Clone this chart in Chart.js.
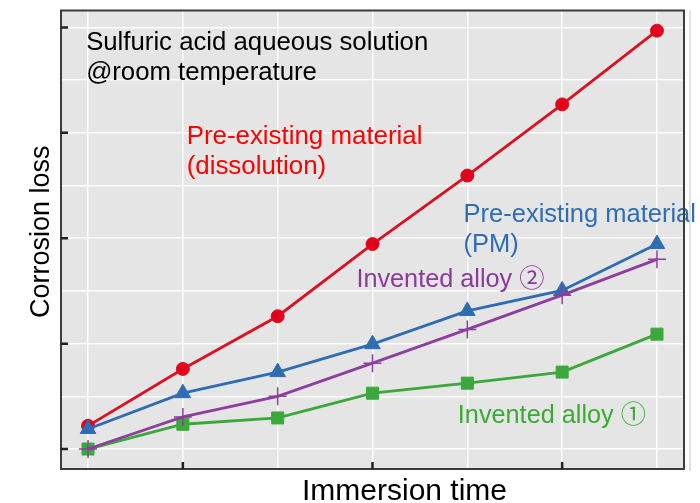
<!DOCTYPE html>
<html><head><meta charset="utf-8">
<script src="https://cdn.jsdelivr.net/npm/chart.js@4/dist/chart.umd.min.js"></script>
<style>html,body{margin:0;padding:0;background:#fff}#wrap{width:700px;height:503px}</style>
</head><body><div id="wrap"><canvas id="c" width="700" height="503"></canvas></div>
<script>
// ---- data ----
const times = [0, 1, 2, 3, 4, 5, 6];
const preExistingDissolution = [0.44, 1.52, 2.52, 3.89, 5.19, 6.54, 7.94];
const preExistingPM          = [0.38, 1.06, 1.46, 1.99, 2.62, 3.01, 3.89];
const inventedAlloy2         = [0.00, 0.61, 1.00, 1.63, 2.27, 2.92, 3.60];
const inventedAlloy1         = [0.00, 0.47, 0.59, 1.06, 1.25, 1.46, 2.18];
const yGridValues = [0, 1, 2, 3, 4, 5, 6, 7, 8];
const yTickMarks = [0, 2, 4, 6, 8];
const xTickMarks = [1, 3, 5];
const xTitle = 'Immersion time';
const yTitle = 'Corrosion loss';
const noteLines = [
  {text: 'Sulfuric acid aqueous solution', color: '#000000', x: -0.02, y: 7.58, size: 25, sx: 1.03},
  {text: '@room temperature',              color: '#000000', x: -0.02, y: 7.01, size: 25, sx: 1.03},
  {text: 'Pre-existing material',          color: '#ff0000', x: 1.04,  y: 5.78, size: 25, sx: 1.035},
  {text: '(dissolution)',                  color: '#ff0000', x: 1.04,  y: 5.22, size: 25, sx: 1.035},
  {text: 'Pre-existing material',          color: '#2e6db4', x: 3.96,  y: 4.30, size: 25, sx: 1.02},
  {text: '(PM)',                           color: '#2e6db4', x: 3.96,  y: 3.73, size: 25, sx: 1.02},
  {text: 'Invented alloy ②',               color: '#8b3a9b', x: 2.83,  y: 3.07, size: 25, sx: 1.01},
  {text: 'Invented alloy ①',               color: '#3aaa35', x: 3.90,  y: 0.49, size: 25, sx: 1.01}
];

const toPts = arr => arr.map((v, i) => ({x: times[i], y: v}));
const FONT = '"Liberation Sans", Arial, "Noto Sans CJK JP", "DejaVu Sans", sans-serif';

const decor = {
  id: 'decor',
  beforeDraw(chart) {
    const {ctx, chartArea: a} = chart;
    ctx.save();
    ctx.fillStyle = '#e5e5e5';
    ctx.fillRect(a.left, a.top, a.right - a.left, a.bottom - a.top);
    ctx.restore();
  },
  afterDatasetsDraw(chart) {
    const {ctx} = chart;
    const xs = chart.scales.x, ys = chart.scales.y;
    ctx.save();
    ctx.textBaseline = 'alphabetic';
    ctx.textAlign = 'left';
    noteLines.forEach(n => {
      ctx.save();
      ctx.translate(xs.getPixelForValue(n.x), ys.getPixelForValue(n.y));
      ctx.scale(n.sx, 1);
      ctx.font = n.size + 'px ' + FONT;
      ctx.fillStyle = n.color;
      ctx.fillText(n.text, 0, 0);
      ctx.restore();
    });
    ctx.restore();
  },
  afterDraw(chart) {
    const {ctx, chartArea: a} = chart;
    const xs = chart.scales.x, ys = chart.scales.y;
    ctx.save();
    // faint outer line
    ctx.strokeStyle = '#d6d6d6';
    ctx.lineWidth = 1.5;
    ctx.beginPath();
    ctx.moveTo(a.right + 6, a.top);
    ctx.lineTo(a.right + 6, a.bottom + 2);
    ctx.stroke();
    // frame
    ctx.strokeStyle = '#3c3c3c';
    ctx.lineWidth = 2;
    ctx.strokeRect(a.left, a.top, a.right - a.left, a.bottom - a.top);
    // inward tick marks
    ctx.strokeStyle = '#222';
    ctx.lineWidth = 2.5;
    ctx.beginPath();
    yTickMarks.forEach(v => {
      const y = ys.getPixelForValue(v);
      ctx.moveTo(a.left, y); ctx.lineTo(a.left + 7, y);
    });
    xTickMarks.forEach(v => {
      const x = xs.getPixelForValue(v);
      ctx.moveTo(x, a.bottom); ctx.lineTo(x, a.bottom - 7);
    });
    ctx.stroke();
    // axis titles
    ctx.fillStyle = '#000';
    ctx.textAlign = 'center';
    ctx.textBaseline = 'alphabetic';
    ctx.font = '30px ' + FONT;
    ctx.fillText(xTitle, (a.left + a.right) / 2 + 32, a.bottom + 31);
    ctx.save();
    ctx.translate(a.left - 12, (a.top + a.bottom) / 2 - 8);
    ctx.rotate(-Math.PI / 2);
    ctx.font = '27px ' + FONT;
    ctx.fillText(yTitle, 0, 0);
    ctx.restore();
    ctx.restore();
  }
};

new Chart(document.getElementById('c'), {
  type: 'line',
  data: {
    datasets: [
      {label: 'Invented alloy ②', data: toPts(inventedAlloy2), borderColor: '#8e3e9e', backgroundColor: '#8e3e9e',
       pointStyle: 'cross', pointRadius: 9, pointBorderWidth: 1.5, borderWidth: 2.8},
      {label: 'Pre-existing material (PM)', data: toPts(preExistingPM), borderColor: '#2f6db3', backgroundColor: '#2f6db3',
       pointStyle: 'triangle', pointRadius: 9, pointBorderWidth: 1, borderWidth: 2.8},
      {label: 'Pre-existing material (dissolution)', data: toPts(preExistingDissolution), borderColor: '#dc1020', backgroundColor: '#e4001c',
       pointStyle: 'circle', pointRadius: 6.5, pointBorderWidth: 1, borderWidth: 2.8},
      {label: 'Invented alloy ①', data: toPts(inventedAlloy1), borderColor: '#3aa83a', backgroundColor: '#3aa83a',
       pointStyle: 'rect', pointRadius: 8.5, pointBorderWidth: 1, borderWidth: 2.8}
    ]
  },
  options: {
    responsive: false,
    animation: false,
    devicePixelRatio: 1,
    layout: {padding: {left: 61, right: 16, top: 10, bottom: 34}},
    plugins: {legend: {display: false}, tooltip: {enabled: false}},
    elements: {line: {tension: 0}},
    scales: {
      x: {
        type: 'linear', min: -0.285, max: 6.285,
        afterBuildTicks: s => { s.ticks = times.map(v => ({value: v})); },
        ticks: {display: false},
        grid: {color: 'rgba(255,255,255,0.95)', lineWidth: 1.5, drawTicks: false},
        border: {display: false}
      },
      y: {
        type: 'linear', min: -0.379, max: 8.322,
        afterBuildTicks: s => { s.ticks = yGridValues.map(v => ({value: v})); },
        ticks: {display: false},
        grid: {color: 'rgba(255,255,255,0.95)', lineWidth: 1.5, drawTicks: false},
        border: {display: false}
      }
    }
  },
  plugins: [decor]
});
</script>
</body></html>
